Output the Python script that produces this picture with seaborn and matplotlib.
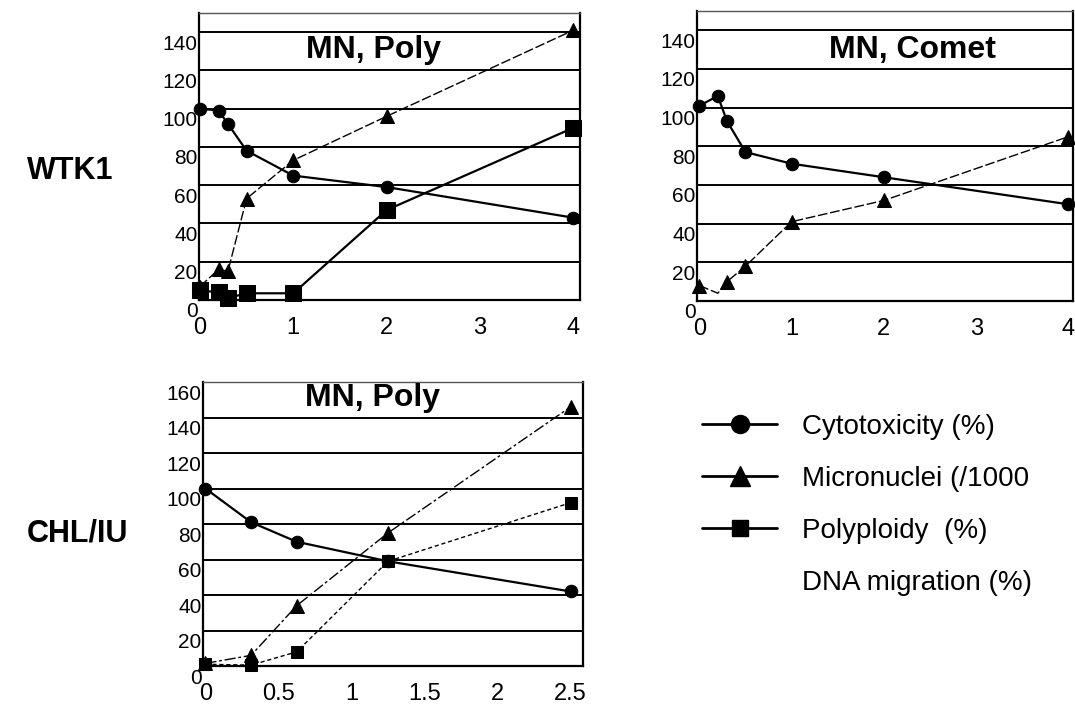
import matplotlib
matplotlib.use("Agg")
import matplotlib.pyplot as plt
import matplotlib.transforms as mtransforms
from matplotlib.lines import Line2D
import seaborn as sns

# WTK1 cells, MN + polyploidy assay
wtk1_dose = [0, 0.2, 0.3, 0.5, 1, 2, 4]
wtk1_poly_cyto = [100, 99, 92, 78, 65, 59, 43]
wtk1_poly_mn = [7, 16, 15, 53, 73, 96, 141]
wtk1_poly_pp = [5, 4, 1, 3.5, 3.5, 47, 90]

# WTK1 cells, MN + comet assay
wtk1_comet_cyto = [101, 106, 93, 77, 71, 64, 50]
wtk1_comet_mn = [8, 4, 10, 18, 41, 52, 85]

# CHL/IU cells, MN + polyploidy assay
chl_dose = [0, 0.3125, 0.625, 1.25, 2.5]
chl_cyto = [100, 81, 70, 59, 42]
chl_mn = [1.5, 6, 34, 75, 146]
chl_pp = [1, 0.5, 8, 59, 92]

legend_labels = ["Cytotoxicity (%)", "Micronuclei (/1000", "Polyploidy  (%)", "DNA migration (%)"]

sns.set_style("white")
plt.rcParams["font.family"] = ["Liberation Sans", "DejaVu Sans"]
plt.rcParams["text.color"] = "black"
plt.rcParams["xtick.color"] = "black"
plt.rcParams["ytick.color"] = "black"

fig = plt.figure(figsize=(10.75, 7.08), dpi=100)
ax_tl = fig.add_axes([0.1851, 0.5763, 0.3544, 0.4054])
ax_tr = fig.add_axes([0.6484, 0.5749, 0.3498, 0.4096])
ax_bl = fig.add_axes([0.1888, 0.0593, 0.3535, 0.4011])


def draw_series(ax, x, y, marker, ms, lw=1.6, ls="-", markevery=None):
    sns.lineplot(x=x, y=y, ax=ax, color="black", marker=marker, markersize=ms,
                 markeredgecolor="black", linewidth=lw, linestyle=ls,
                 markevery=markevery, errorbar=None, sort=False, clip_on=False)


def style_panel(ax, xlim, xticks, xlabels, ylim, yticks):
    ax.set_xlim(*xlim)
    ax.set_ylim(*ylim)
    ax.set_xticks(xticks)
    ax.set_xticklabels(xlabels)
    ax.set_yticks(yticks)
    ax.yaxis.grid(True, color="black", linewidth=1.4)
    ax.xaxis.grid(False)
    ax.set_axisbelow(True)
    ax.tick_params(axis="x", length=0, pad=12, labelsize=17, colors="black")
    ax.tick_params(axis="y", length=0, pad=1, labelsize=15, colors="black")
    for side in ["left", "bottom", "right"]:
        ax.spines[side].set_color("black")
        ax.spines[side].set_linewidth(1.6)
    ax.spines["top"].set_color("#555555")
    ax.spines["top"].set_linewidth(1.0)
    ax.spines["top"].set_linestyle((0, (2, 1)))
    # y labels in the scan sit a little below their gridlines
    offset = mtransforms.ScaledTranslation(0, -0.10, fig.dpi_scale_trans)
    for lab in ax.get_yticklabels():
        lab.set_transform(lab.get_transform() + offset)


# top left: WTK1, MN + Poly
draw_series(ax_tl, wtk1_dose, wtk1_poly_cyto, "o", 9, lw=1.6)
draw_series(ax_tl, wtk1_dose, wtk1_poly_mn, "^", 10, lw=1.0, ls=(0, (7, 2)))
draw_series(ax_tl, wtk1_dose, wtk1_poly_pp, "s", 11, lw=1.6)
style_panel(ax_tl, (-0.01, 4.07), [0, 1, 2, 3, 4], ["0", "1", "2", "3", "4"],
            (0, 150), list(range(0, 141, 20)))
ax_tl.text(0.457, 0.871, "MN, Poly", transform=ax_tl.transAxes, ha="center",
           va="center", fontsize=23, fontweight="bold")

# top right: WTK1, MN + Comet
draw_series(ax_tr, wtk1_dose, wtk1_comet_cyto, "o", 9, lw=1.6)
draw_series(ax_tr, wtk1_dose, wtk1_comet_mn, "^", 10, lw=1.0, ls=(0, (7, 2)),
            markevery=[0, 2, 3, 4, 5, 6])
style_panel(ax_tr, (-0.025, 4.05), [0, 1, 2, 3, 4], ["0", "1", "2", "3", "4"],
            (0, 150), list(range(0, 141, 20)))
ax_tr.text(0.574, 0.866, "MN, Comet", transform=ax_tr.transAxes, ha="center",
           va="center", fontsize=23, fontweight="bold")

# bottom left: CHL/IU, MN + Poly
draw_series(ax_bl, chl_dose, chl_cyto, "o", 9, lw=1.6)
draw_series(ax_bl, chl_dose, chl_mn, "^", 10, lw=1.0, ls=(0, (8, 2, 2, 2)))
draw_series(ax_bl, chl_dose, chl_pp, "s", 8, lw=1.0, ls=(0, (3, 2)))
style_panel(ax_bl, (-0.017, 2.585), [0, 0.5, 1, 1.5, 2, 2.5],
            ["0", "0.5", "1", "1.5", "2", "2.5"], (0, 160), list(range(0, 161, 20)))
ax_bl.text(0.447, 0.944, "MN, Poly", transform=ax_bl.transAxes, ha="center",
           va="center", fontsize=23, fontweight="bold")

# row labels
fig.text(27 / 1075, 1 - 171 / 708, "WTK1", fontsize=22, fontweight="bold",
         ha="left", va="center")
fig.text(27 / 1075, 1 - 534 / 708, "CHL/IU", fontsize=22, fontweight="bold",
         ha="left", va="center")

handles = [
    Line2D([], [], color="black", lw=2.0, marker="o", markersize=13),
    Line2D([], [], color="black", lw=2.0, marker="^", markersize=14),
    Line2D([], [], color="black", lw=2.0, marker="s", markersize=12),
    Line2D([], [], color="none", lw=2.0),
]
fig.legend(handles, legend_labels, loc="upper left",
           bbox_to_anchor=(702 / 1075, 1 - 414 / 708), frameon=False,
           fontsize=20, handlelength=2.7, handletextpad=0.9, labelspacing=0.93,
           borderpad=0, borderaxespad=0)

fig.savefig("out.png", dpi=100)
